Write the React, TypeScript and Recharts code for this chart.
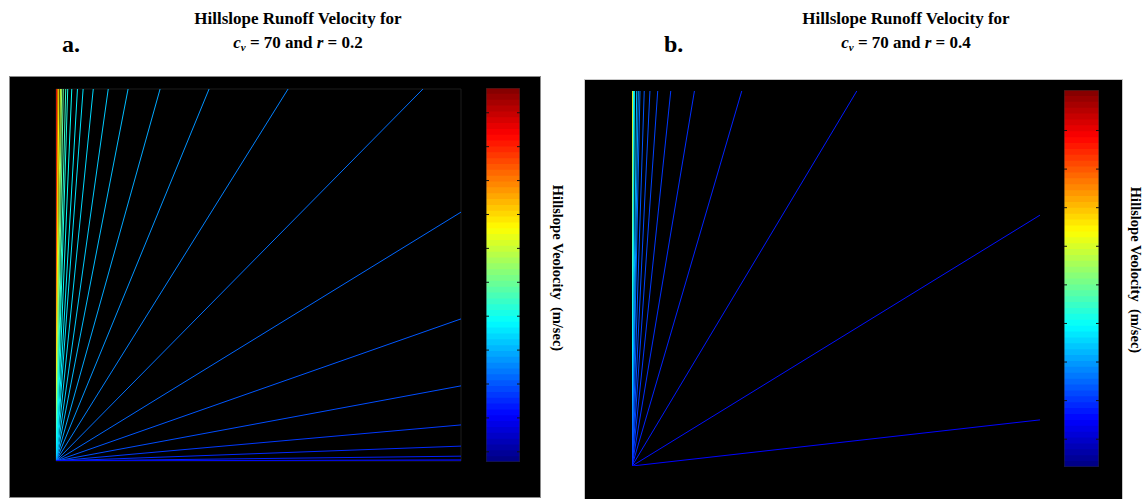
import { LineChart, Line, XAxis, YAxis, ReferenceArea, ReferenceLine } from 'recharts';

// panel a: cv = 70, r = 0.2
// contour ends on the top edge (x fraction) and on the right edge (y fraction)
const aTopX = [0.001, 0.003, 0.005, 0.007, 0.011, 0.014, 0.018, 0.024, 0.029, 0.039, 0.053, 0.067, 0.092, 0.129, 0.178, 0.257, 0.378, 0.573, 0.906];
const aTopLevel = [0.1085, 0.0974, 0.0864, 0.0776, 0.0699, 0.0644, 0.0588, 0.0544, 0.0511, 0.0489, 0.0467, 0.0456, 0.0445, 0.0428, 0.0412, 0.039, 0.0368, 0.0346, 0.0329];
const aRightY = [0.669, 0.382, 0.202, 0.097, 0.04, 0.013, 0.003, 0.0];
const aRightLevel = [0.0318, 0.0302, 0.0291, 0.0269, 0.0252, 0.0241, 0.0224, 0.0202];
const aRange = [0.007, 0.1173];
const aTicks = [0.01, 0.02, 0.03, 0.04, 0.05, 0.06, 0.07, 0.08, 0.09, 0.1, 0.11];

// panel b: cv = 70, r = 0.4
const bTopX = [0.0005, 0.001, 0.002, 0.003, 0.004, 0.006, 0.0115, 0.0155, 0.0196, 0.03, 0.044, 0.063, 0.095, 0.153, 0.269, 0.551];
const bTopLevel = [0.0888, 0.0731, 0.0634, 0.0517, 0.0399, 0.037, 0.0321, 0.0292, 0.0253, 0.0233, 0.0223, 0.0214, 0.0204, 0.0194, 0.0184, 0.0175];
const bRightY = [0.669, 0.123];
const bRightLevel = [0.0165, 0.0155];
const bRange = [0.0028, 0.1005];
const bTicks = [0.01, 0.02, 0.03, 0.04, 0.05, 0.06, 0.07, 0.08, 0.09];

const STEPS = 64;

function jet(t: number) {
  const c = (v: number) => Math.round(255 * Math.max(0, Math.min(1, v)));
  const r = c(1.5 - Math.abs(4 * t - 3));
  const g = c(1.5 - Math.abs(4 * t - 2));
  const b = c(1.5 - Math.abs(4 * t - 1));
  return `rgb(${r},${g},${b})`;
}

type Seg = { key: string; end: { x: number; y: number }; color: string };

function buildSegs(topX: number[], topLv: number[], rightY: number[], rightLv: number[], range: number[]): Seg[] {
  const norm = (v: number) => (v - range[0]) / (range[1] - range[0]);
  const top = topX.map((x, i) => ({ key: `t${i}`, end: { x, y: 1 }, color: jet(norm(topLv[i])) }));
  const right = rightY.map((y, i) => ({ key: `r${i}`, end: { x: 1, y }, color: jet(norm(rightLv[i])) }));
  return [...top, ...right];
}

function Contours({ segs, width, height, margin, frame }: { segs: Seg[]; width: number; height: number; margin: any; frame: string }) {
  return (
    <LineChart width={width} height={height} margin={margin}>
      <XAxis dataKey="x" type="number" domain={[0, 1]} hide allowDataOverflow />
      <YAxis type="number" domain={[0, 1]} hide allowDataOverflow />
      <ReferenceArea x1={0} x2={1} y1={0} y2={1} fill="none" stroke={frame} strokeWidth={1} />
      {segs.map((s) => (
        <Line
          key={s.key}
          data={[{ x: 0, y: 0 }, s.end]}
          dataKey="y"
          stroke={s.color}
          strokeWidth={1}
          dot={false}
          activeDot={false}
          isAnimationActive={false}
        />
      ))}
    </LineChart>
  );
}

function ColorBar({ range, ticks, width, height }: { range: number[]; ticks: number[]; width: number; height: number }) {
  const step = (range[1] - range[0]) / STEPS;
  const stripes = Array.from({ length: STEPS }, (_, i) => i);
  const span = [
    { x: 0, y: range[0] },
    { x: 1, y: range[1] },
  ];
  const tickLen = 3 / width;
  return (
    <LineChart width={width} height={height} margin={{ top: 0, right: 0, bottom: 0, left: 0 }}>
      <XAxis type="number" dataKey="x" domain={[0, 1]} hide allowDataOverflow />
      <YAxis type="number" domain={range} hide allowDataOverflow />
      {stripes.map((i) => (
        <ReferenceArea
          key={i}
          x1={0}
          x2={1}
          y1={range[0] + i * step}
          y2={Math.min(range[1], range[0] + (i + 1.4) * step)}
          fill={jet((i + 0.5) / STEPS)}
          fillOpacity={1}
          stroke="none"
        />
      ))}
      <ReferenceArea x1={0} x2={1} y1={range[0]} y2={range[1]} fill="none" stroke="#222" />
      {ticks.map((t) => (
        <ReferenceLine key={`l${t}`} segment={[{ x: 0, y: t }, { x: tickLen, y: t }]} stroke="#111" strokeWidth={1} />
      ))}
      {ticks.map((t) => (
        <ReferenceLine key={`r${t}`} segment={[{ x: 1 - tickLen, y: t }, { x: 1, y: t }]} stroke="#111" strokeWidth={1} />
      ))}
      <Line data={span} dataKey="y" stroke="none" dot={false} activeDot={false} isAnimationActive={false} />
    </LineChart>
  );
}

function Title({ cx, letterX, letter, r }: { cx: number; letterX: number; letter: string; r: string }) {
  return (
    <>
      <div style={{ position: 'absolute', left: cx - 150, top: 7, width: 300, textAlign: 'center', fontWeight: 'bold', fontSize: 17, lineHeight: '24px' }}>
        Hillslope Runoff Velocity for
        <br />
        <i>c</i>
        <sub style={{ fontSize: 11, fontStyle: 'italic', verticalAlign: '-3px', lineHeight: 0 }}>v</sub> = 70 and <i>r</i> = {r}
      </div>
      <div style={{ position: 'absolute', left: letterX, top: 31, fontWeight: 'bold', fontSize: 24 }}>{letter}</div>
    </>
  );
}

function SideLabel({ cx, cy }: { cx: number; cy: number }) {
  return (
    <div
      style={{
        position: 'absolute',
        left: cx,
        top: cy,
        transform: 'translate(-50%, -50%) rotate(90deg)',
        whiteSpace: 'pre',
        fontWeight: 'bold',
        fontSize: 14.5,
      }}
    >
      {'Hillslope Veolocity  (m/sec)'}
    </div>
  );
}

export default function App() {
  const aSegs = buildSegs(aTopX, aTopLevel, aRightY, aRightLevel, aRange);
  const bSegs = buildSegs(bTopX, bTopLevel, bRightY, bRightLevel, bRange);
  return (
    <div
      style={{
        position: 'absolute',
        left: 0,
        top: 0,
        width: 1148,
        height: 499,
        overflow: 'hidden',
        background: '#fff',
        fontFamily: '"Liberation Serif", "Times New Roman", serif',
        color: '#000',
      }}
    >
      <Title cx={298} letterX={62} letter="a." r="0.2" />
      <Title cx={906} letterX={664} letter="b." r="0.4" />

      <div style={{ position: 'absolute', left: 9, top: 76, width: 530, height: 420, background: '#000', border: '1px solid #8a8a8a' }} />
      <div style={{ position: 'absolute', left: 10, top: 77 }}>
        <Contours segs={aSegs} width={530} height={420} margin={{ top: 12, right: 79, bottom: 36, left: 46 }} frame="#1c1c1c" />
      </div>
      <div style={{ position: 'absolute', left: 486, top: 88 }}>
        <ColorBar range={aRange} ticks={aTicks} width={34} height={374} />
      </div>
      <SideLabel cx={557} cy={268} />

      <div style={{ position: 'absolute', left: 584, top: 79, width: 537, height: 430, background: '#000', border: '1px solid #c8c8c8' }} />
      <div style={{ position: 'absolute', left: 585, top: 80 }}>
        <Contours segs={bSegs} width={537} height={420} margin={{ top: 11, right: 82, bottom: 34, left: 47 }} frame="#000" />
      </div>
      <div style={{ position: 'absolute', left: 1064, top: 90 }}>
        <ColorBar range={bRange} ticks={bTicks} width={35} height={377} />
      </div>
      <SideLabel cx={1135} cy={270} />
    </div>
  );
}
